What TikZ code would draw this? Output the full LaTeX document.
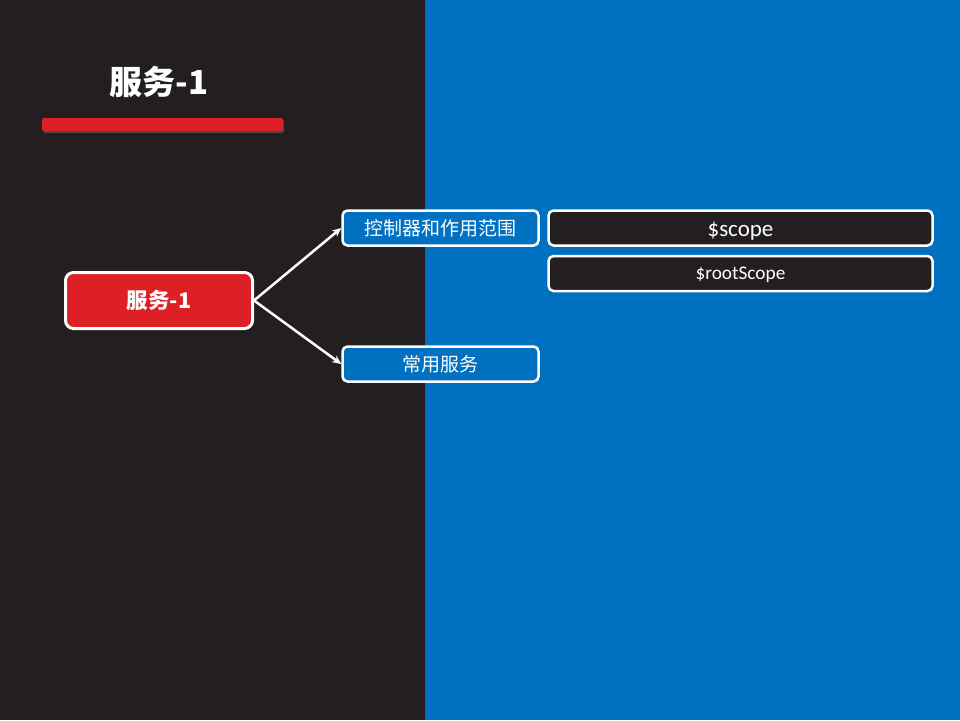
\documentclass[tikz,border=0pt]{standalone}
\usepackage{fontspec}
\setmainfont{Carlito}
\newfontfamily\cjk{Noto Sans CJK SC}
\usetikzlibrary{arrows.meta,shadows}
\definecolor{darkbg}{HTML}{231F20}
\definecolor{bluebg}{HTML}{0070C0}
\definecolor{redfill}{HTML}{DD1F26}
\tikzset{
  rootbox/.style={draw=white, line width=3pt, fill=redfill, rounded corners=8pt,
    minimum width=187pt, minimum height=56pt, text=white, font=\cjk\bfseries\fontsize{21.5}{25}\selectfont},
  topicbox/.style={draw=white, line width=2.5pt, fill=bluebg, rounded corners=5pt,
    minimum width=196pt, minimum height=35pt, text=white, font=\cjk\fontsize{19}{23}\selectfont},
  leafbox/.style={draw=white, line width=2.5pt, fill=darkbg, rounded corners=5pt,
    minimum width=384pt, minimum height=35pt, text=white},
  link/.style={draw=white, line width=2.5pt, -{Stealth[length=9pt,width=8pt]}},
}
\begin{document}
\begin{tikzpicture}[x=1pt,y=-1pt]
  % two-tone backdrop
  \fill[darkbg] (0,0) rectangle (425,720);
  \fill[bluebg] (425,0) rectangle (960,720);
  \useasboundingbox (0,0) rectangle (960,720);

  % heading and underline bar
  \node[text=white, font=\cjk\bfseries\fontsize{33}{39}\selectfont] (title) at (159,82) {服务-1};
  \fill[redfill, rounded corners=2pt, drop shadow={shadow xshift=1pt, shadow yshift=-2pt, opacity=0.4}]
    (42,118) rectangle (283,131);

  % mind-map nodes
  \node[rootbox] (root) at (159,300.5) {服务-1};
  \node[topicbox] (ctrl) at (440.5,228) {控制器和作用范围};
  \node[topicbox] (svc) at (440.5,364) {常用服务};
  \node[leafbox, font=\fontsize{23}{27}\selectfont] (scope) at (740.5,228) {\smash{\raisebox{-8.5pt}{\$scope}}};
  \node[leafbox, font=\fontsize{19.3}{23}\selectfont] (rootscope) at (740.5,273.5) {\smash{\raisebox{-6.3pt}{\$rootScope}}};

  % connectors
  \draw[link] (root.east) -- (ctrl.west);
  \draw[link] (root.east) -- (svc.west);
\end{tikzpicture}
\end{document}
